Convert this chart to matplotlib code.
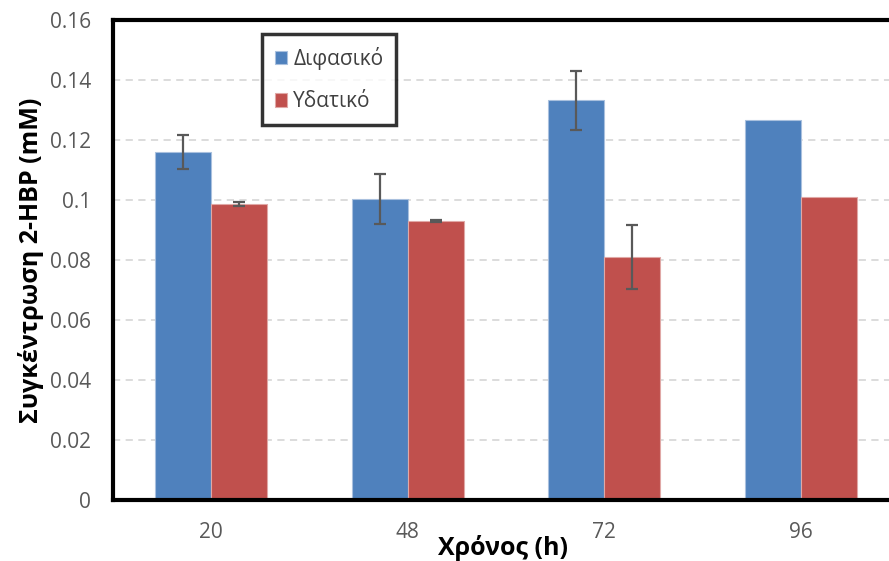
import matplotlib
matplotlib.use("Agg")
import matplotlib.pyplot as plt
import numpy as np

# Concentration of 2-HBP over time for the two systems
times = ["20", "48", "72", "96"]
biphasic = [0.116, 0.1003, 0.1333, 0.1267]
biphasic_err = [0.0055, 0.0083, 0.0098, 0.0]
aqueous = [0.0987, 0.093, 0.081, 0.101]
aqueous_err = [0.0008, 0.0002, 0.0107, 0.0]
series_names = ["Διφασικό", "Υδατικό"]
y_ticks = [0, 0.02, 0.04, 0.06, 0.08, 0.1, 0.12, 0.14, 0.16]
y_tick_labels = ["0", "0.02", "0.04", "0.06", "0.08", "0.1", "0.12", "0.14", "0.16"]

plt.rcParams["font.family"] = ["Open Sans", "DejaVu Sans"]

W, H = 889, 561
fig = plt.figure(figsize=(W / 100, H / 100), dpi=100)
left_px, right_px, top_px, bottom_px = 113, 899, 20, 500
ax = fig.add_axes([left_px / W, 1 - bottom_px / H,
                   (right_px - left_px) / W, (bottom_px - top_px) / H])

x = np.arange(len(times))
bw = 0.284
blue, red = "#4F81BD", "#C0504D"
err_kw = dict(ecolor="#595959", elinewidth=1.6, capsize=4.3, capthick=1.6)

ax.bar(x - bw / 2, biphasic, bw, color=blue, edgecolor="#a9c0de",
       linewidth=0.8, label=series_names[0], zorder=2)
ax.bar(x + bw / 2, aqueous, bw, color=red, edgecolor="#e0a8a6",
       linewidth=0.8, label=series_names[1], zorder=2)
for xs, vals, errs in ((x - bw / 2, biphasic, biphasic_err),
                       (x + bw / 2, aqueous, aqueous_err)):
    for xi, v, e in zip(xs, vals, errs):
        if e > 0:
            ax.errorbar(xi, v, yerr=e, fmt="none", zorder=3, **err_kw)

ax.set_xlim(-0.5, 3.5)
ax.set_ylim(0, 0.16)
ax.set_yticks(y_ticks)
ax.set_yticklabels(y_tick_labels)
ax.set_xticks(x)
ax.set_xticklabels(times)
ax.tick_params(axis="both", length=0, labelsize=15, colors="#595959")
ax.tick_params(axis="x", pad=15.5)
ax.tick_params(axis="y", pad=16)

ax.yaxis.grid(True, color="#d9d9d9", linestyle=(0, (4, 3)), linewidth=1.3, zorder=0)
ax.set_axisbelow(True)

for s in ("left", "top", "bottom"):
    ax.spines[s].set_linewidth(3)
    ax.spines[s].set_color("black")
ax.spines["right"].set_visible(False)

ax.set_ylabel("Συγκέντρωση 2-HBP (mM)", fontsize=18, fontweight="bold",
              color="black", labelpad=4)
fig.text(503 / W, 1 - 548 / H, "Χρόνος (h)", fontsize=18, fontweight="bold",
         ha="center", va="center")

leg = ax.legend(loc="upper left", bbox_to_anchor=((262 - left_px) / (right_px - left_px),
                                                  1 - (34 - top_px) / (bottom_px - top_px)),
                fontsize=15, frameon=True, fancybox=False, handlelength=0.6,
                handleheight=0.6, handletextpad=0.3, labelspacing=1.05,
                borderpad=0.6, borderaxespad=0)
leg.get_frame().set_edgecolor("black")
leg.get_frame().set_linewidth(2.5)
for t in leg.get_texts():
    t.set_color("#404040")

fig.savefig("out.png", dpi=100)
